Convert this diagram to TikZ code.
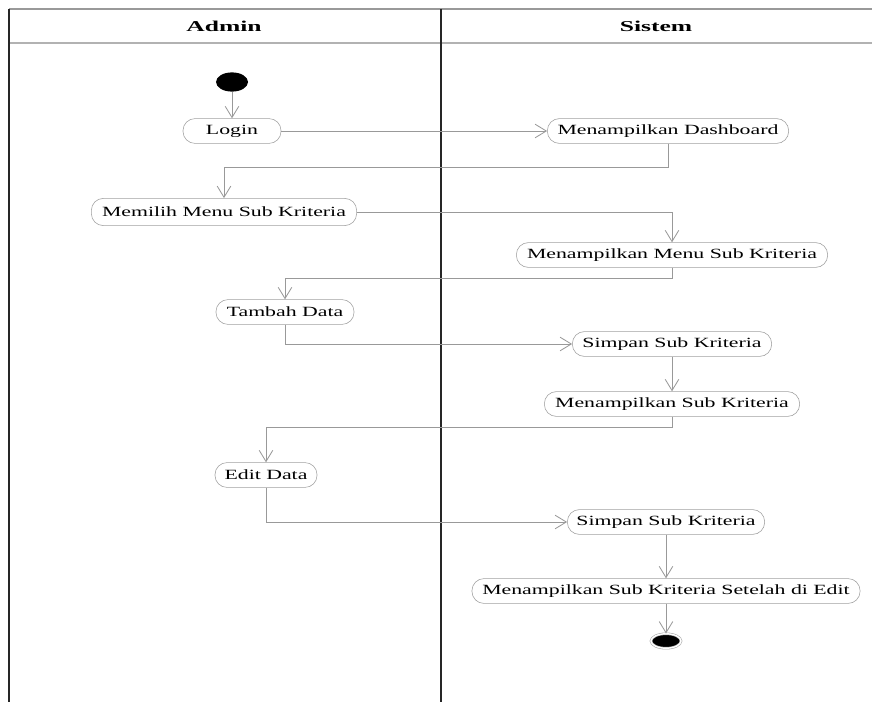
\documentclass[tikz,border=0pt]{standalone}
\usepackage{fontspec}
\setmainfont{Liberation Serif}
\newfontfamily\actfont{Liberation Serif}[FakeStretch=1.55]
\newfontfamily\lanefont{Liberation Serif}[FakeStretch=1.7]
\usetikzlibrary{positioning,arrows.meta,shapes.geometric}

\begin{document}
\begin{tikzpicture}[x=0.025cm, y=-0.025cm,
		act/.style={draw=gray!75, rounded corners=3mm, minimum height=0.62cm,
			inner xsep=2pt, font=\actfont\fontsize{10}{12}\selectfont},
		flow/.style={draw=gray!80, line width=0.6pt,
			-{Straight Barb[length=2.8mm,width=3.4mm]}},
		lane/.style={draw=black!85, line width=0.8pt},
		lanehead/.style={font=\lanefont\bfseries\fontsize{10.7}{13}\selectfont},
		initnode/.style={ellipse, fill=black, minimum width=0.8cm,
			minimum height=0.48cm, inner sep=0pt},
		finalnode/.style={ellipse, fill=black, draw=gray!70, double=white,
			double distance=1pt, minimum width=0.75cm, minimum height=0.36cm,
			inner sep=0pt}]
	\useasboundingbox (0,0) rectangle (872,702);
	% swimlanes
	\draw[lane, draw=gray!80] (9,9) -- (872,9);
	\draw[lane, draw=gray!60] (9,43) -- (872,43);
	\draw[lane] (9,9) -- (9,702);
	\draw[lane] (441,9) -- (441,702);
	\node[lanehead] (admin) at (224,26) {Admin};
	\node[lanehead] (sistem) at (656,26) {Sistem};
	% activities
	\node[initnode] (init) at (232,82) {};
	\node[act, minimum width=2.45cm] (login) at (232,131) {Login};
	\node[act, minimum width=6.03cm] (dash) at (668,131) {Menampilkan Dashboard};
	\node[act, minimum width=6.63cm, minimum height=0.68cm] (pilih) at (224,212)
		{Memilih Menu Sub Kriteria};
	\node[act, minimum width=7.78cm] (menusub) at (672,255)
		{Menampilkan Menu Sub Kriteria};
	\node[act, minimum width=3.45cm] (tambah) at (285,312) {Tambah Data};
	\node[act, minimum width=4.98cm] (simpanA) at (672,344) {Simpan Sub Kriteria};
	\node[act, minimum width=6.38cm] (tampil) at (672,404) {Menampilkan Sub Kriteria};
	\node[act, minimum width=2.55cm] (edit) at (266,475) {Edit Data};
	\node[act, minimum width=4.93cm] (simpanB) at (666,522) {Simpan Sub Kriteria};
	\node[act, minimum width=9.7cm] (setelah) at (666,591)
		{Menampilkan Sub Kriteria Setelah di Edit};
	\node[finalnode] (final) at (666,641) {};
	% flows
	\draw[flow] (init) -- (login);
	\draw[flow] (login) -- (dash);
	\draw[flow] (dash.south) -- ++(0,24) -| (pilih.north);
	\draw[flow] (pilih) -| (menusub.north);
	\draw[flow] (menusub.south) -- ++(0,11) -| (tambah.north);
	\draw[flow] (tambah) |- (simpanA);
	\draw[flow] (simpanA) -- (tampil);
	\draw[flow] (tampil.south) -- ++(0,11) -| (edit.north);
	\draw[flow] (edit) |- (simpanB);
	\draw[flow] (simpanB) -- (setelah);
	\draw[flow] (setelah) -- (final);
\end{tikzpicture}
\end{document}
